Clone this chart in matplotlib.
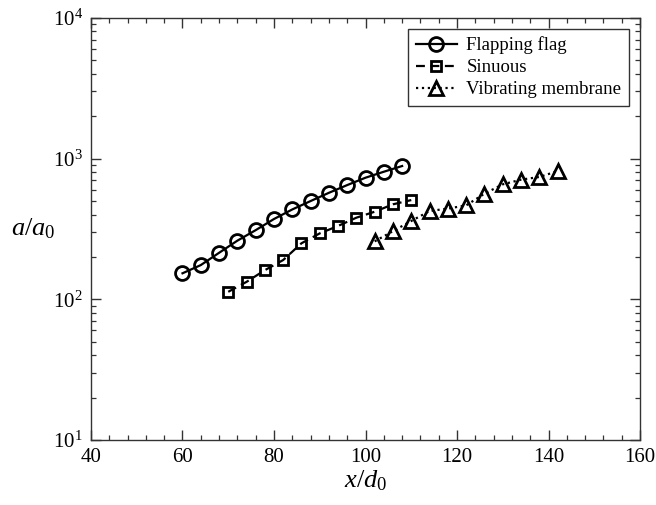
import matplotlib
matplotlib.use("Agg")
import matplotlib.pyplot as plt
from matplotlib.ticker import MultipleLocator, LogLocator

# Data
flag_x = [60, 64, 68, 72, 76, 80, 84, 88, 92, 96, 100, 104, 108]
flag_y = [153, 175, 214, 261, 310, 372, 435, 499, 571, 648, 731, 806, 885]

sinuous_x = [70, 74, 78, 82, 86, 90, 94, 98, 102, 106, 110]
sinuous_y = [113, 133, 161, 190, 250, 294, 332, 380, 419, 473, 507]

membrane_x = [102, 106, 110, 114, 118, 122, 126, 130, 134, 138, 142]
membrane_y = [258, 305, 360, 424, 441, 465, 563, 656, 708, 740, 815]

labels = ["Flapping flag", "Sinuous", "Vibrating membrane"]

plt.rcParams["font.family"] = ["Liberation Serif", "DejaVu Serif"]
plt.rcParams["mathtext.fontset"] = "custom"
plt.rcParams["mathtext.rm"] = "Liberation Serif"
plt.rcParams["mathtext.it"] = "Liberation Serif:italic"

fig = plt.figure(figsize=(6.56, 5.05), dpi=100)
ax = fig.add_axes([0.1387, 0.1287, 0.837, 0.836])

ax.plot(flag_x, flag_y, "-o", color="black", lw=1.6, ms=10,
        mfc="none", mew=2.0, label=labels[0])
ax.plot(sinuous_x, sinuous_y, "--s", color="black", lw=1.6, ms=7.5,
        mfc="none", mew=2.0, dashes=(4, 2.5), label=labels[1])
ax.plot(membrane_x, membrane_y, ":^", color="black", lw=1.6, ms=10,
        mfc="none", mew=2.0, label=labels[2])

ax.set_yscale("log")
ax.set_xlim(40, 160)
ax.set_ylim(10, 1e4)
ax.xaxis.set_major_locator(MultipleLocator(20))
ax.xaxis.set_minor_locator(MultipleLocator(4))
ax.yaxis.set_major_locator(LogLocator(base=10))
ax.yaxis.set_minor_locator(LogLocator(base=10, subs=range(2, 10)))

ax.tick_params(which="both", direction="in", top=True, right=True,
               labelsize=15, color="#333333")
ax.tick_params(which="major", length=7.5, width=1.0, pad=6)
ax.tick_params(which="minor", length=3.8, width=0.9)
for sp in ax.spines.values():
    sp.set_linewidth(1.0)
    sp.set_color("#333333")

ax.set_xlabel("$x/d_0$", fontsize=19, labelpad=1)
ax.set_ylabel("$a/a_0$", fontsize=19, rotation=0, labelpad=14, va="center")

leg = ax.legend(loc="upper right", fontsize=13.5, frameon=True, fancybox=False,
                edgecolor="black", handlelength=2.2, borderaxespad=0.6,
                handletextpad=0.5, labelspacing=0.25, borderpad=0.4)
leg.get_frame().set_linewidth(1.0)

fig.savefig("out.png", dpi=100)
